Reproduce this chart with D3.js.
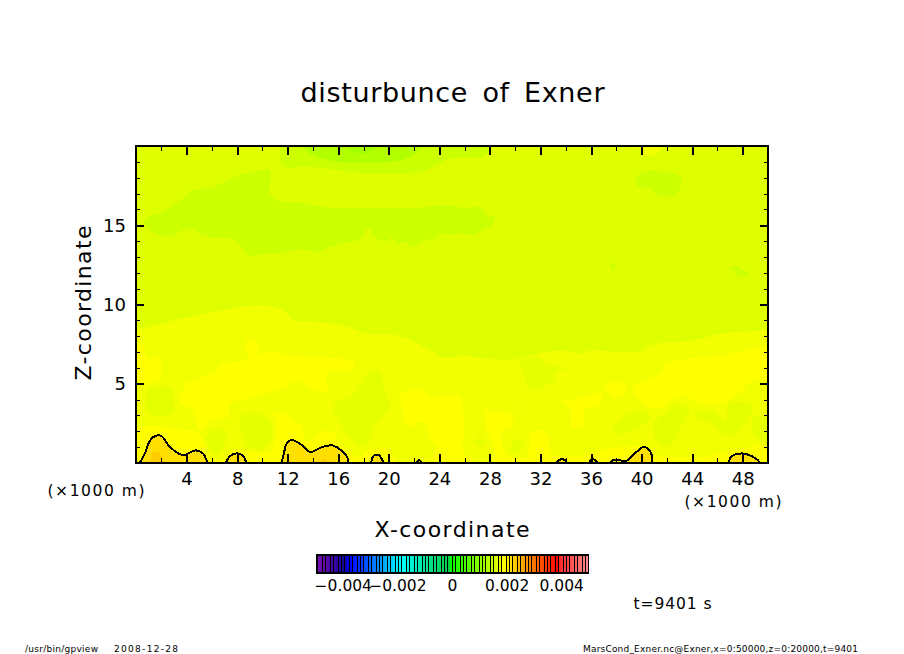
<!DOCTYPE html>
<html><head><meta charset="utf-8">
<script src="https://cdn.jsdelivr.net/npm/d3@7"></script>
<style>html,body{margin:0;padding:0;background:#fff}svg{display:block}text{font-family:"DejaVu Sans",sans-serif;fill:#000}</style>
</head><body><svg id="c" width="904" height="654"></svg>
<script>
// ---------- data (x in km, z in km, levels in Exner units) ----------
const titleText = "disturbunce of Exner";
const xMajor = [4,8,12,16,20,24,28,32,36,40,44,48];
const xMinor = [2,6,10,14,18,22,26,30,34,38,42,46,50];
const zMajor = [5,10,15];
const zMinor = [1,2,3,4,6,7,8,9,11,12,13,14,16,17,18,19];
const barTicks = [-0.004,-0.002,0,0.002,0.004];
const barLabels = ["−0.004","−0.002","0","0.002","0.004"];
const colorLevels = [-0.005,-0.004,-0.0038,-0.0019,-0.00015,-0.0001,0.0019,0.0039,0.00395,0.005];
const colorValues = ["#7a10b0","#10009a","#0000ff","#00ffff","#00d040","#00ff00","#ffff00","#ff0000","#ff2828","#ff8c8c"];

const baseLevel = 0.00165, holeLevel = 0.0017, lowLevel = 0.0015, lowerLevel = 0.0013, lowestLevel = 0.0012;
const upLevel = 0.0018, yellowLevel = 0.0019, goldLevel = 0.00215, deepLevel = 0.0023;

const lowMain = [[.6,15.3],[2.2,15.9],[3.7,16.7],[4.5,17.2],[6.1,17.4],[7.7,18],[9.3,18.4],[10.6,18.5],[10.7,18.1],[10.5,17.2],[11.1,16.6],[13.2,16.4],[15.3,16.1],[18,16.1],[22.2,16.1],[24.6,16.3],[25.9,16.1],[27.3,16.1],[27.9,15.5],[28.4,15.6],[28.2,15],[27.6,14.8],[26.7,14.4],[25.6,14.5],[24.8,14.4],[24.2,14.5],[23.8,14.2],[22.7,14],[21.9,13.6],[21.4,13.9],[20.6,13.9],[20.2,14.3],[20,14],[19,14.2],[18.4,14.8],[17.7,14.1],[16.4,13.9],[15.3,13.6],[14.3,13.3],[13.2,13.5],[11.9,13.3],[10.3,13.2],[8.9,13.1],[8.4,13.6],[7.7,14.1],[5.6,14.3],[4.1,14.8],[2.7,14.3],[1.4,14.5]];
const lowTop = [[11.7,20.4],[11.7,18.7],[13.5,18.7],[15.9,18.5],[18,18.3],[20.6,18.3],[22.7,18.4],[24.6,19.1],[25.6,19.3],[27.5,19.3],[28.1,20.4]];
const lowerTop = [[13,20.4],[13.8,19.5],[15.3,19.1],[18,18.9],[20.1,19],[21.9,19.4],[22.7,20.4]];
const lowestTop = [[16.4,20.4],[17.2,19.6],[18.5,19.6],[19.3,20.4]];
const lowRight = [[39.5,17.8],[39.9,18.3],[40.9,18.4],[42.8,18.2],[43.2,17.8],[42.8,17],[42,16.8],[41.3,16.9],[40.7,17.3],[39.6,17.5]];
const lowDot = [[37.6,12.4],[37.8,12.6],[37.9,12.3],[37.7,12.2]];
const lowSliver = [[47,12.3],[47.5,12.4],[48.5,11.9],[47.8,11.7],[47.3,12.1]];
const upTop = [[39.6,20.4],[40.1,19.5],[40.9,19.4],[42,20.4]];

const upBand = [[-.5,8],[1.6,8.7],[3.5,9.1],[6.1,9.5],[8.8,9.9],[10.6,9.9],[12.1,9.4],[12.2,9.1],[14.3,8.9],[16.4,8.7],[18,8.2],[20.4,8.1],[21.9,7.7],[23.3,7.1],[24.6,6.6],[25.6,6.8],[27.5,6.6],[29.6,6.5],[31.4,6.8],[32.5,7],[33.8,7.1],[35.4,6.9],[35.9,7.1],[38,7],[40.1,7.1],[40.4,7.3],[41.7,7.6],[43.8,7.7],[46.5,8.2],[48.6,8.3],[50.5,8.2],[50.5,-.5],[-.5,-.5]];

const yellowMain = [[3.5,4.2],[4,5],[6.4,5.8],[6.6,6.2],[8.8,6.6],[8.6,7.5],[9.2,7.9],[9.7,7.3],[9.7,6.8],[10.6,7.1],[11.9,6.8],[13.8,6.7],[15.9,6.6],[17.2,6.3],[17.1,5.9],[15.1,5.7],[15.1,5],[15.3,4.4],[14,4.7],[12.7,5.2],[11.9,4.8],[9.5,4.2],[7.4,3.7],[7.3,2.9],[5.9,2.7],[5.1,2],[4.5,3.3],[3.6,3.8]];
const yellowLeft = [[-.5,7.3],[.6,7.4],[.9,6.6],[1.8,6.7],[2,6.1],[1.8,5.2],[.6,5],[-.5,4.8]];
const yellowFloorA = [[-.5,2],[.8,2.3],[2.2,2.3],[3.7,2.1],[4.9,1.9],[5.5,1],[5.7,.4],[6.9,.2],[7.4,.7],[8.5,.8],[10.1,.6],[10.6,.7],[11,1.5],[11.1,2.3],[10.9,3.2],[11.9,3],[13,2.4],[13.6,1.3],[14.6,2],[15.6,1.9],[16.4,1],[17.7,.4],[18.5,.8],[19.6,.9],[20.4,.4],[20.4,-.5],[-.5,-.5]];
const yellowBlock = [[20.9,4.2],[21.4,4.6],[22.6,4.65],[23.3,4.2],[25.6,4.2],[25.9,3.1],[26,2.3],[25.9,1],[26.2,.4],[26.5,.4],[26.5,-.5],[23.3,-.5],[23.3,.2],[23.8,1],[23.3,1.5],[22.7,2.6],[21.4,2.3],[21.1,3.3]];
const yellowFloorB = [[27.7,3.3],[28.4,3.2],[29,3.2],[29.7,2.9],[29.9,2.4],[29,2],[29,1],[29.5,.4],[30.9,.4],[31.2,1.9],[32,2.1],[32.6,1.7],[32.8,.6],[34,.4],[36,.6],[37.2,.9],[38.5,1],[40.3,1],[41,.5],[43,.4],[45,.4],[47,.7],[48.4,1],[50.5,.9],[50.5,-.5],[28,-.5],[28.3,.4],[28.3,1],[27.8,2]];
const yellowColumn = [[33.7,4],[34.6,4],[35.4,4.2],[36.7,4.4],[36.8,3.8],[35.5,3.3],[35.4,2.5],[34.5,2.3],[34.3,3.6]];
const yellowRight = [[39.3,4.7],[39.7,5],[41.7,5.8],[41.7,6.2],[43.8,6.6],[46.5,6.8],[48,7.1],[50.5,7.3],[50.5,5.4],[48.6,5.1],[48,4.6],[47,4],[45.7,3.7],[44.1,4],[43,4.2],[41.2,3.4],[40.1,3.8],[39.5,4.3]];
const yellowPatch = [[36.9,4.8],[38.3,5.1],[38.8,4.6],[37.8,4.1],[37.2,4.6]];

const holeA = [[.7,3.8],[1,4.6],[1.9,4.9],[2.8,4.7],[3,3.7],[3.2,3.4],[2.4,3],[1.2,3.1]];
const holeB = [[5.6,1.5],[6.1,2.1],[6.8,2.1],[7.2,1.5],[6.5,.7],[6,.7]];
const holeC = [[8.2,2.3],[8.4,3],[9.4,3.2],[10.6,2.6],[10.8,1.8],[10.1,.9],[9,1]];
const holeD = [[15.6,3.6],[17,4.2],[17.7,4.8],[18.4,5.7],[19.3,5.7],[19.8,4.2],[20.2,3.7],[19.6,3.1],[19,2.5],[18,1],[17,1.5],[16.3,2.3]];
const holeE = [[30.4,6.4],[31.7,6.7],[32.5,6.2],[34.2,6],[33.4,5.8],[32.9,5.1],[31.2,4.6],[30.8,5.3]];
const holeF = [[37.8,2.2],[38.8,3],[40.1,3.3],[40.7,2.8],[39.6,2.2],[38.3,1.8]];
const holeG = [[40.9,2.3],[41.7,3.1],[43,3.7],[43.8,3.3],[43,2.1],[42.2,1],[41.4,1.2]];
const holeH = [[44.2,3.2],[45.7,3.2],[46.6,2.6],[46.9,3.8],[47.4,3.9],[48.7,3.6],[48.6,3],[47.8,2.2],[47.5,1.8],[46.6,1.8],[45.7,2.4],[44.5,2.8]];
const holeI = [[48.7,2.7],[49.3,3],[50.5,2.6],[50.5,1.3],[49.3,1.4],[48.7,2.1]];
const holeJ = [[26.8,1.3],[27.2,1.7],[27.6,1.3],[27.2,1]];
const holeK = [[29.6,1],[30.1,1.5],[30.6,1],[30.1,.6]];
const holeL = [[30.2,3.5],[30.4,3.7],[30.5,3.3],[30.3,3.2]];

const contourA = [[.3,0],[.7,.6],[1.1,1.4],[1.5,1.7],[2,1.7],[2.7,1],[3.7,.5],[4.7,.8],[5.3,.6],[5.65,0]];
const contourB = [[7.1,0],[7.4,.4],[7.9,.6],[8.4,.5],[8.75,0]];
const contourC = [[11.5,0],[11.7,.6],[11.9,1.2],[12.3,1.45],[13,1.2],[13.8,.7],[14.7,1],[15.6,1.1],[16.7,.4],[16.8,0]];
const contourD = [[18.6,0],[18.8,.45],[19.2,.5],[19.6,0]];
const contourE = [[22.2,0],[22.4,.2],[22.6,0]];
const contourF = [[33.2,0],[33.5,.2],[33.9,.2],[34.1,0]];
const contourG = [[35.9,0],[36,.2],[36.3,.2],[36.5,0]];
const contourH = [[37.5,0],[37.8,.2],[38.2,.2],[38.7,.1],[39.6,.7],[40.1,1],[40.5,.9],[40.8,.5],[40.8,0]];
const contourI = [[46.9,0],[47.1,.4],[48,.6],[49,.3],[49.4,0]];
const deepA = [[1.2,-.2],[1.3,.6],[1.8,.7],[2.2,-.2]];
const deepB = [[14.3,-.2],[14.8,.25],[15.6,-.2]];

const fieldLayers = [
  [lowLevel,[lowMain,lowTop,lowRight,lowDot,lowSliver]],
  [lowerLevel,[lowerTop]],
  [lowestLevel,[lowestTop]],
  [upLevel,[upTop,upBand]],
  [yellowLevel,[yellowMain,yellowLeft,yellowFloorA,yellowBlock,yellowFloorB,yellowColumn,yellowRight,yellowPatch]],
  [holeLevel,[holeA,holeB,holeC,holeD,holeE,holeF,holeG,holeH,holeI,holeJ,holeK,holeL]],
  [goldLevel,[contourA,contourB,contourC,contourD,contourE,contourF,contourG,contourH,contourI]],
  [deepLevel,[deepA,deepB]]
];
const contourLines = [contourA,contourB,contourC,contourD,contourE,contourF,contourG,contourH,contourI];

// ---------- drawing ----------
const svg = d3.select("#c");
const x = d3.scaleLinear().domain([0,50]).range([136,768]);
const z = d3.scaleLinear().domain([0,20]).range([463,146]);
const color = d3.scaleLinear().domain(colorLevels).range(colorValues).clamp(true);
const barScale = d3.scaleLinear().domain([-0.005,0.005]).range([316,589]);
const stripeScale = d3.scaleLinear().domain([-0.005,0.005]).range([318,589]);

svg.append("defs").append("clipPath").attr("id","plot").append("rect")
  .attr("x",x(0)).attr("y",z(20)).attr("width",x(50)-x(0)).attr("height",z(0)-z(20));
const field = svg.append("g").attr("clip-path","url(#plot)").attr("shape-rendering","crispEdges");
field.append("rect").attr("x",x(0)).attr("y",z(20)).attr("width",x(50)-x(0)).attr("height",z(0)-z(20)).attr("fill",color(baseLevel));
const blob = d3.line().x(d=>x(d[0])).y(d=>z(d[1])).curve(d3.curveCatmullRomClosed.alpha(0.5));
fieldLayers.forEach(([lev,polys])=>{
  field.append("g").selectAll("path").data(polys).join("path")
    .attr("d",blob).attr("fill",color(lev));
});
const open = d3.line().x(d=>x(d[0])).y(d=>z(d[1])).curve(d3.curveCatmullRom.alpha(0.5));
field.append("g").selectAll("path").data(contourLines).join("path")
  .attr("d",open).attr("fill","none").attr("stroke","#000").attr("stroke-width",2);

// axes: ticks point inward
function axisSet(axisFn,scale,pos,vals,len,w,labels,pad){
  const a = axisFn(scale).tickValues(vals).tickSizeOuter(0).tickSizeInner(-len).tickPadding(pad||0)
    .tickFormat(labels?d3.format("d"):"");
  const g = svg.append("g").attr("transform",pos).attr("shape-rendering","crispEdges").call(a);
  g.select(".domain").remove();
  g.selectAll("line").attr("stroke","#000").attr("stroke-width",w);
  g.selectAll("text").style("font-size","18px").style("font-family",'"DejaVu Sans",sans-serif').attr("fill","#000");
  return g;
}
const B=`translate(0,463)`,T=`translate(0,146)`,L=`translate(136,0)`,R=`translate(768,0)`;
axisSet(d3.axisBottom,x,B,xMajor,9,2,true,9);
axisSet(d3.axisBottom,x,B,xMinor,5,1);
axisSet(d3.axisTop,x,T,xMajor,9,2);
axisSet(d3.axisTop,x,T,xMinor,5,1);
axisSet(d3.axisLeft,z,L,zMajor,8,2,true,10);
axisSet(d3.axisLeft,z,L,zMinor,4,1);
axisSet(d3.axisRight,z,R,zMajor,8,2);
axisSet(d3.axisRight,z,R,zMinor,4,1);
svg.append("rect").attr("x",x(0)).attr("y",z(20)).attr("width",x(50)-x(0)).attr("height",z(0)-z(20))
  .attr("fill","none").attr("stroke","#000").attr("stroke-width",2).attr("shape-rendering","crispEdges");

function label(txt,px,py,size,anchor,len,rot){
  const t = svg.append("text").text(txt).attr("x",px).attr("y",py).attr("font-size",size).attr("text-anchor",anchor||"middle");
  if(len) t.attr("textLength",len);
  if(rot) t.attr("transform",`rotate(${rot} ${px} ${py})`);
  return t;
}
label(titleText,452.5,102,27,"middle",304).attr("word-spacing",5);
label("X-coordinate",452,537,22,"middle",155);
label("Z-coordinate",91,303,22,"middle",155,-90);
label("(×1000 m)",96,496,15.5,"middle",97);
label("(×1000 m)",733,507,15.5,"middle",97);
label("t=9401 s",672.5,609,15.5,"middle",78);
label("/usr/bin/gpview",25,652,9,"start",73);
label("2008-12-28",114,652,9,"start",64);
label("MarsCond_Exner.nc@Exner,x=0:50000,z=0:20000,t=9401",583,652,9,"start",275);

// colour bar
const barLevels = d3.range(100).map(i=>-0.005+i*0.0001);
svg.append("rect").attr("x",barScale(-0.005)).attr("y",554).attr("width",barScale(0.005)-barScale(-0.005)).attr("height",20).attr("fill","#000");
svg.append("g").attr("shape-rendering","crispEdges").selectAll("rect").data(barLevels).join("rect")
  .attr("x",d=>Math.floor(stripeScale(d))).attr("y",556)
  .attr("width",2).attr("height",16)
  .attr("fill",d=>color(d+0.00005));
svg.append("g").selectAll("text").data(barTicks).join("text")
  .attr("x",d=>barScale(d)).attr("y",591).attr("text-anchor","middle").attr("font-size",15.5)
  .text((d,i)=>barLabels[i]);
</script></body></html>
